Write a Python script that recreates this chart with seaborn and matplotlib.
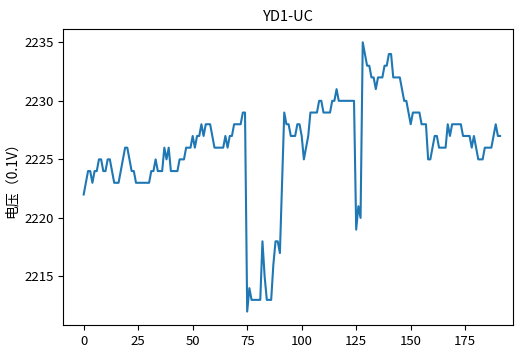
import numpy as np
import pandas as pd
import matplotlib
matplotlib.use("Agg")
import matplotlib.pyplot as plt
import seaborn as sns

title = "YD1-UC"
y_label = "电压（0.1V）"

voltage = [
    2222, 2223, 2224, 2224, 2223, 2224, 2224, 2225, 2225, 2224,
    2224, 2225, 2225, 2224, 2223, 2223, 2223, 2224, 2225, 2226,
    2226, 2225, 2224, 2224, 2223, 2223, 2223, 2223, 2223, 2223,
    2223, 2224, 2224, 2225, 2224, 2224, 2224, 2226, 2225, 2226,
    2224, 2224, 2224, 2224, 2225, 2225, 2225, 2226, 2226, 2226,
    2227, 2226, 2227, 2227, 2228, 2227, 2228, 2228, 2228, 2227,
    2226, 2226, 2226, 2226, 2226, 2227, 2226, 2227, 2227, 2228,
    2228, 2228, 2228, 2229, 2229, 2212, 2214, 2213, 2213, 2213,
    2213, 2213, 2218, 2215, 2213, 2213, 2213, 2216, 2218, 2218,
    2217, 2223, 2229, 2228, 2228, 2227, 2227, 2227, 2228, 2228,
    2227, 2225, 2226, 2227, 2229, 2229, 2229, 2229, 2230, 2230,
    2229, 2229, 2229, 2229, 2230, 2230, 2231, 2230, 2230, 2230,
    2230, 2230, 2230, 2230, 2230, 2219, 2221, 2220, 2235, 2234,
    2233, 2233, 2232, 2232, 2231, 2232, 2232, 2232, 2233, 2233,
    2234, 2234, 2232, 2232, 2232, 2232, 2231, 2230, 2230, 2229,
    2228, 2229, 2229, 2229, 2229, 2228, 2228, 2228, 2225, 2225,
    2226, 2227, 2227, 2226, 2226, 2226, 2226, 2228, 2227, 2228,
    2228, 2228, 2228, 2228, 2227, 2227, 2227, 2227, 2226, 2227,
    2226, 2225, 2225, 2225, 2226, 2226, 2226, 2226, 2227, 2228,
    2227, 2227,
]
index = list(range(len(voltage)))

plt.rcParams['font.family'] = ['Noto Sans CJK SC', 'DejaVu Sans']
plt.rcParams['axes.unicode_minus'] = False

fig = plt.figure(figsize=(5.31, 3.56), dpi=100)
ax = fig.add_axes([0.119, 0.087, 0.847, 0.832])

df = pd.DataFrame({"idx": index, "v": voltage})
sns.lineplot(data=df, x="idx", y="v", ax=ax, color="#1f77b4", linewidth=1.5)

ax.set_xlim(-9.4, 196.9)
ax.set_title(title, fontsize=10.5)
ax.set_xlabel("")
ax.set_ylabel(y_label, fontsize=10)
ax.tick_params(labelsize=9.5)

fig.savefig("out.png", dpi=100)
